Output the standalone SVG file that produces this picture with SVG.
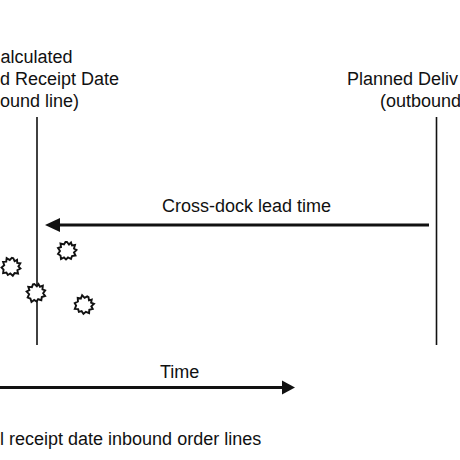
<svg xmlns="http://www.w3.org/2000/svg" width="460" height="460" viewBox="0 0 460 460">
<style>
text{font-family:"Liberation Sans",Arial,sans-serif;font-size:18px;fill:#111}
.vline{stroke:#111;stroke-width:1.6;fill:none}
.arrow{stroke:#111;stroke-width:3;fill:none}
.blob{fill:#fff;stroke:#111;stroke-width:1.9;stroke-linejoin:miter}
</style>
<defs>
<polygon id="burst" points="0,-9 2,-6.5 4,-8.5 5,-5.5 8,-6 7,-2.5 9.5,-1 7,1.5 8.5,4.5 5,5 4,8 1,6.5 -1,8.5 -3,6.5 -6,8 -6.5,4.5 -9,3 -7,0 -9,-3 -6,-4 -6.5,-7.5 -3,-6.5 -1.5,-9"/>
</defs>
<g id="connectors">
<line class="vline" x1="37" y1="117" x2="37" y2="345"/>
<line class="vline" x1="436.5" y1="117" x2="436.5" y2="345"/>
<line class="arrow" x1="58" y1="225" x2="429" y2="225"/>
<polygon points="45,225 60,218 60,232" fill="#111"/>
<line class="arrow" x1="0" y1="387.5" x2="283" y2="387.5"/>
<polygon points="295,387.5 282,380.5 282,394.5" fill="#111"/>
</g>
<g id="inbound-label">
<text x="0.5" y="63">alculated</text>
<text x="0" y="85">d Receipt Date</text>
<text x="0" y="107">ound line)</text>
</g>
<g id="outbound-label">
<text x="347" y="85">Planned Deliv</text>
<text x="380" y="107">(outbound</text>
</g>
<g id="crossdock-label"><text x="162" y="212">Cross-dock lead time</text></g>
<g id="time-label"><text x="160" y="378">Time</text></g>
<g id="caption"><text x="0" y="445">l receipt date inbound order lines</text></g>
<g id="bursts">
<use href="#burst" class="blob" x="67" y="251"/>
<use href="#burst" class="blob" x="11" y="267" transform="rotate(15 11 267)"/>
<use href="#burst" class="blob" x="36" y="293" transform="rotate(-10 36 293)"/>
<use href="#burst" class="blob" x="84" y="305" transform="rotate(30 84 305)"/>
</g>
</svg>
